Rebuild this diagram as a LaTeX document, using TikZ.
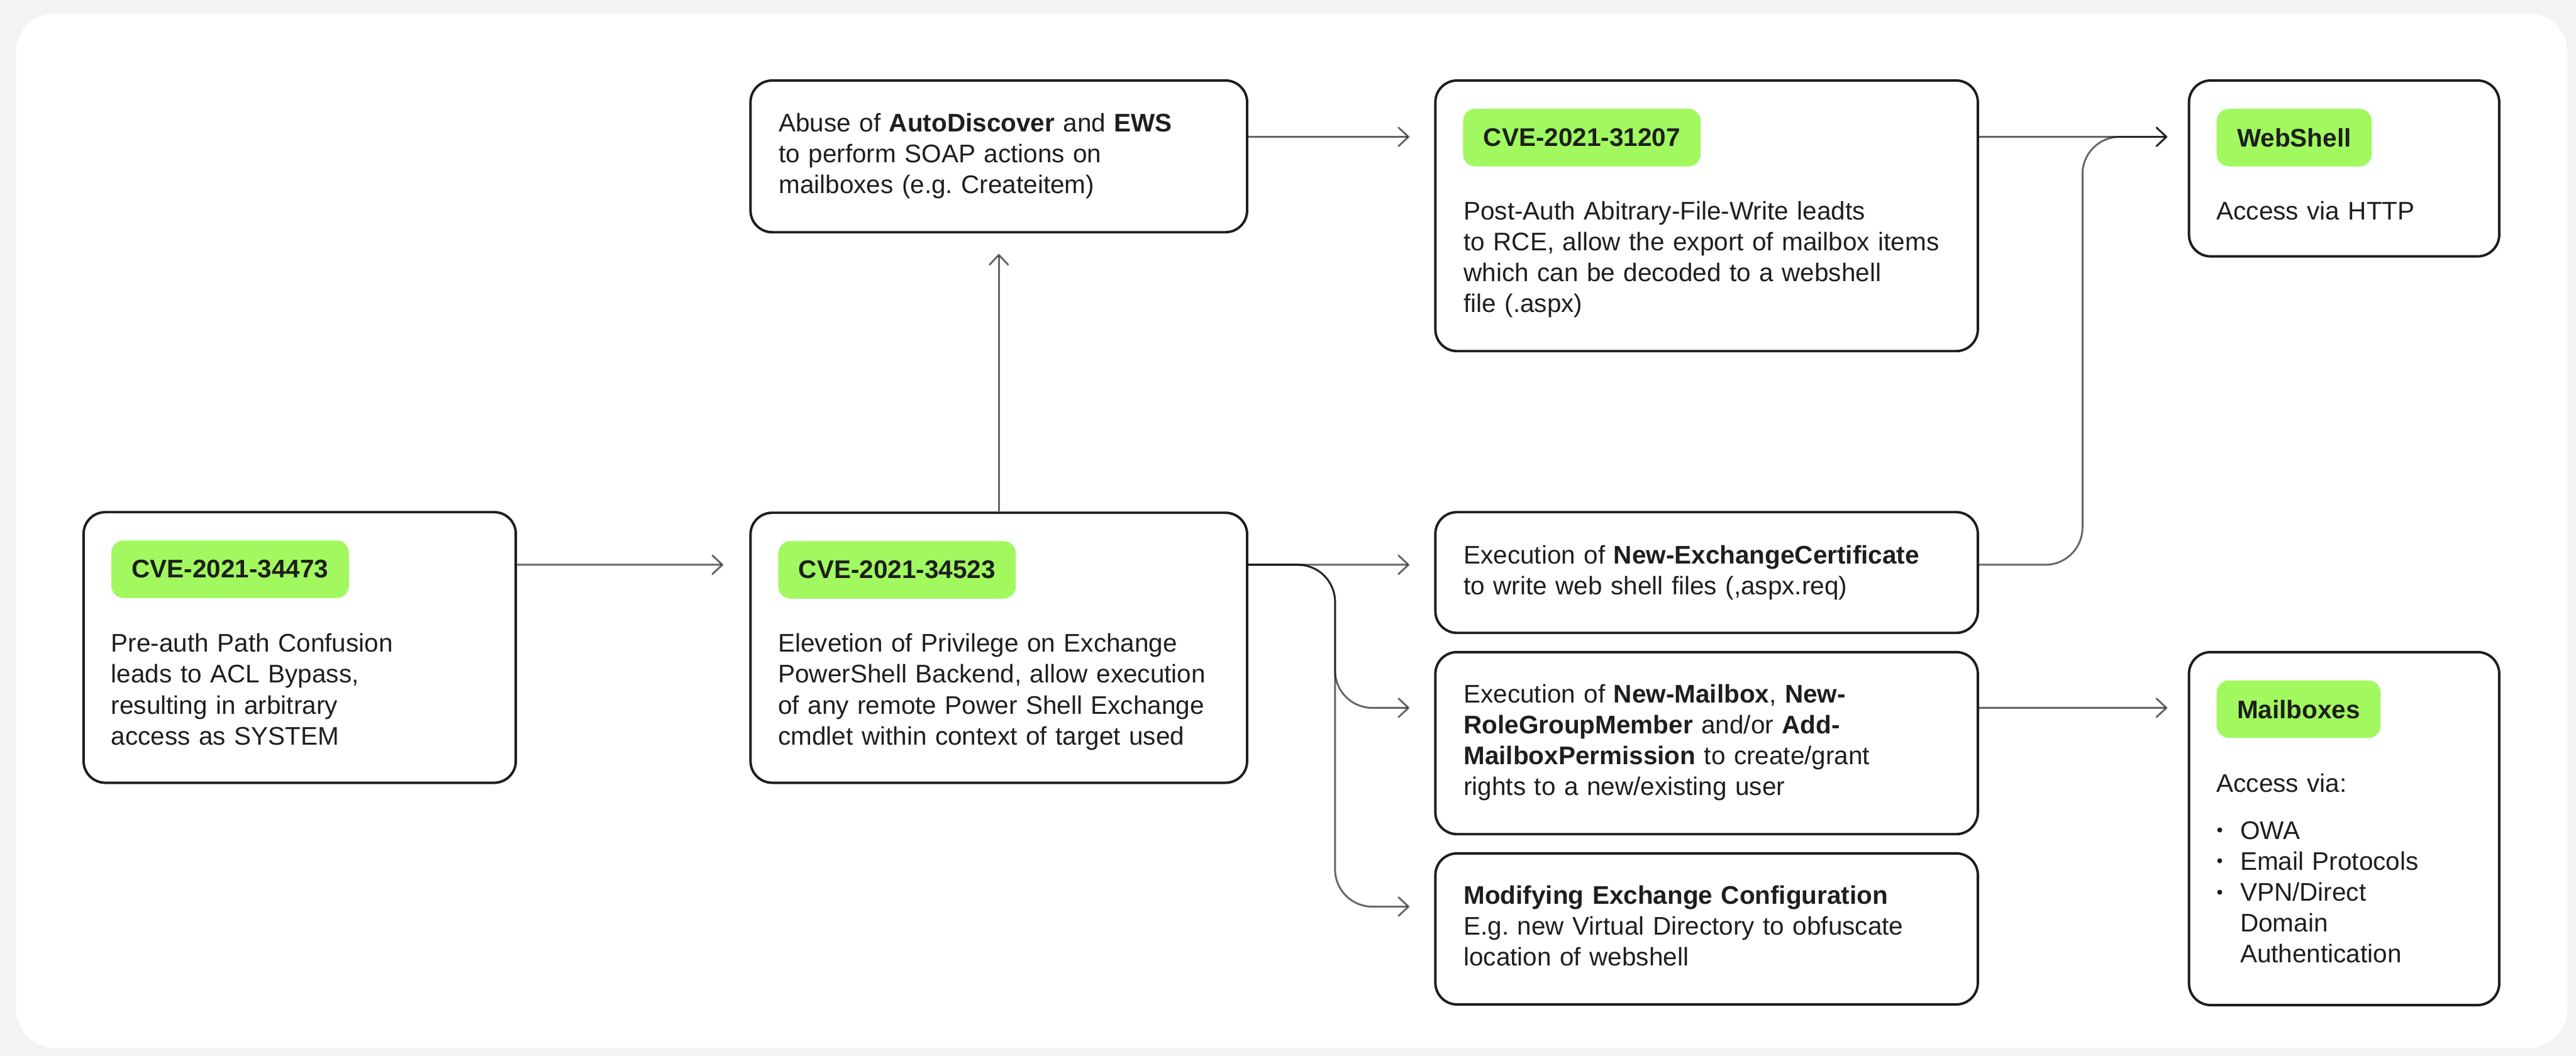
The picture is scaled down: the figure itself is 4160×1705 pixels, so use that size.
\documentclass[tikz,border=0pt]{standalone}
\usepackage{fontspec}
\setmainfont{Liberation Sans}
\usepackage{xcolor}
\usetikzlibrary{arrows.meta}
\frenchspacing

\definecolor{cvegreen}{HTML}{A1F95F}
\definecolor{inkdark}{HTML}{1E1E1E}
\definecolor{pagegray}{HTML}{F3F3F3}

\begin{document}
\begin{tikzpicture}[x=0.1mm, y=-0.1mm,
        every node/.style={font=\fontsize{11.7}{14.2}\selectfont, text=inkdark},
        box/.style={draw=inkdark, line width=0.4mm, rounded corners=3.5mm, fill=white},
        tag/.style={fill=cvegreen, rounded corners=2mm, font=\fontsize{11.7}{14.2}\selectfont\bfseries,
            inner xsep=3.3mm, inner ysep=0pt, minimum height=9.3mm, anchor=north west},
        body/.style={text width=85mm, align=left, inner sep=0pt, anchor=base west},
        link/.style={draw=black, draw opacity=0.6, line width=0.3mm,
            -{Straight Barb[length=1.6mm, width=3mm, round]}}]

        % The page
        \useasboundingbox (0,0) rectangle (4160,1705);
        \fill[pagegray] (0,0) rectangle (4160,1705);
        \fill[white, rounded corners=6.2mm] (26,22) rectangle (4146,1692);

        % The boxes
        \node[box, minimum width=69.8mm, minimum height=43.7mm] (auth) at (484,1045.5) {};
        \node[box, minimum width=80.2mm, minimum height=43.6mm] (priv) at (1613,1046) {};
        \node[box, minimum width=80.2mm, minimum height=24.5mm] (abuse) at (1613,252.5) {};
        \node[box, minimum width=87.6mm, minimum height=43.7mm] (rce) at (2756,348.5) {};
        \node[box, minimum width=87.6mm, minimum height=19.5mm] (cert) at (2756,924.5) {};
        \node[box, minimum width=87.6mm, minimum height=29.4mm] (rights) at (2756,1200) {};
        \node[box, minimum width=87.6mm, minimum height=24.4mm] (config) at (2756,1500) {};
        \node[box, minimum width=50.1mm, minimum height=28.4mm] (webshell) at (3785.5,272) {};
        \node[box, minimum width=50.1mm, minimum height=57mm] (mailbox) at (3785.5,1338) {};

        % The green tags
        \node[tag] (auth-tag) at ([xshift=4.6mm, yshift=-4.7mm]auth.north west) {CVE-2021-34473};
        \node[tag] (priv-tag) at ([xshift=4.6mm, yshift=-4.7mm]priv.north west) {CVE-2021-34523};
        \node[tag] (rce-tag) at ([xshift=4.6mm, yshift=-4.7mm]rce.north west) {CVE-2021-31207};
        \node[tag] (webshell-tag) at ([xshift=4.6mm, yshift=-4.7mm]webshell.north west) {WebShell};
        \node[tag] (mailbox-tag) at ([xshift=4.6mm, yshift=-4.7mm]mailbox.north west) {Mailboxes};

        % The words in the boxes
        \node[body] (auth-text) at ([xshift=4.6mm, yshift=-22.8mm]auth.north west)
            {Pre-auth Path Confusion\\leads to ACL Bypass,\\resulting in arbitrary\\access as SYSTEM};
        \node[body] (priv-text) at ([xshift=4.6mm, yshift=-22.7mm]priv.north west)
            {Elevetion of Privilege on Exchange\\PowerShell Backend, allow execution\\of any remote Power Shell Exchange\\cmdlet within context of target used};
        \node[body] (abuse-text) at ([xshift=4.7mm, yshift=-8.5mm]abuse.north west)
            {Abuse of \textbf{AutoDiscover} and \textbf{EWS}\\to perform SOAP actions on\\mailboxes (e.g. Createitem)};
        \node[body] (rce-text) at ([xshift=4.7mm, yshift=-22.7mm]rce.north west)
            {Post-Auth Abitrary-File-Write leadts\\to RCE, allow the export of mailbox items\\which can be decoded to a webshell\\file (.aspx)};
        \node[body] (cert-text) at ([xshift=4.7mm, yshift=-8.5mm]cert.north west)
            {Execution of \textbf{New-ExchangeCertificate}\\to write web shell files (,aspx.req)};
        \node[body] (rights-text) at ([xshift=4.7mm, yshift=-8.4mm]rights.north west)
            {Execution of \textbf{New-Mailbox}, \textbf{New-}\\\textbf{RoleGroupMember} and/or \textbf{Add-}\\\textbf{MailboxPermission} to create/grant\\rights to a new/existing user};
        \node[body] (config-text) at ([xshift=4.7mm, yshift=-8.4mm]config.north west)
            {\textbf{Modifying Exchange Configuration}\\E.g. new Virtual Directory to obfuscate\\location of webshell};
        \node[body] (webshell-text) at ([xshift=4.6mm, yshift=-22.7mm]webshell.north west)
            {Access via HTTP};
        \node[body, text width=42mm] (mailbox-text) at ([xshift=4.6mm, yshift=-22.8mm]mailbox.north west)
            {Access via:\\[2.6mm]
            \makebox[3.8mm][l]{\raisebox{0.2ex}{\scalebox{0.7}{\textbullet}}}OWA\\
            \makebox[3.8mm][l]{\raisebox{0.2ex}{\scalebox{0.7}{\textbullet}}}Email Protocols\\
            \makebox[3.8mm][l]{\raisebox{0.2ex}{\scalebox{0.7}{\textbullet}}}VPN/Direct\\
            \makebox[3.8mm][l]{}Domain\\
            \makebox[3.8mm][l]{}Authentication};

        % The arrow ends
        \coordinate (priv-out) at ([yshift=-8.6mm]priv.north east);
        \coordinate (fork) at (2156,914);
        \coordinate (rights-in) at ([xshift=-4mm, yshift=-9.2mm]rights.north west);
        \coordinate (config-in) at ([xshift=-4mm, yshift=-8.8mm]config.north west);
        \coordinate (webshell-in) at ([xshift=-3.3mm, yshift=-9.3mm]webshell.north west);

        % The edges
        \draw[link] ([yshift=-8.7mm]auth.north east) -- ([xshift=-4.2mm, yshift=-8.6mm]priv.north west);
        \draw[link] (priv.north) -- ([yshift=-3.3mm]abuse.south);
        \draw[link] ([yshift=-9.3mm]abuse.north east) -- ([xshift=-4mm, yshift=-9.3mm]rce.north west);
        \draw[link] ([yshift=-9.3mm]rce.north east) -- (webshell-in);
        \draw[link] (priv-out) -- ([xshift=-4mm, yshift=-8.7mm]cert.north west);
        \draw[link, rounded corners=6mm] (priv-out) -| (fork |- rights-in) -- (rights-in);
        \draw[link, rounded corners=6mm] (priv-out) -| (fork |- config-in) -- (config-in);
        \draw[link, rounded corners=6mm] ([yshift=-8.7mm]cert.north east) -- ++(16.7mm,0) |- (webshell-in);
        \draw[link] ([yshift=-9.2mm]rights.north east) -- ([xshift=-3.3mm, yshift=-9.2mm]mailbox.north west);

    \end{tikzpicture}
\end{document}
